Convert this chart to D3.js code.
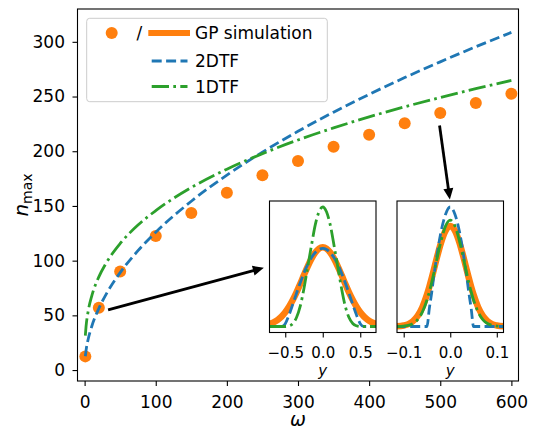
<!DOCTYPE html>
<html>
<head>
<meta charset="utf-8">
<script src="https://cdn.jsdelivr.net/npm/d3@7"></script>
<style>
  body { margin: 0; background: #fff; }
  svg { display: block; font-family: "DejaVu Sans", sans-serif; }
</style>
</head>
<body>
<div id="chart"></div>
<script>
// GP simulation (markers)
const gpOmega = [1, 20, 50, 100, 150, 200, 250, 300, 350, 400, 450, 500, 550, 600];
const gpNmax = [12.5, 57, 90, 122.5, 143.5, 162, 178, 191, 204, 215, 225.5, 235, 244, 252.5];

// Thomas-Fermi curves
const tfOmega = [1, 2, 5, 10, 20, 30, 50, 75, 100, 150, 200, 250, 300, 350, 400, 450, 500, 550, 600];
const tf2D = [12.6, 17.8, 28.2, 39.8, 56.3, 69.0, 89.1, 109.1, 126.0, 154.3, 178.2, 199.2, 218.2, 235.7, 252.0, 267.3, 281.7, 295.5, 308.6];
const tf1D = [31.4, 39.6, 53.7, 67.6, 85.2, 97.5, 115.7, 132.5, 145.7, 166.8, 183.6, 197.8, 210.3, 221.3, 231.4, 240.6, 249.1, 257.2, 264.7];

const xTicks = [0, 100, 200, 300, 400, 500, 600];
const yTicks = [0, 50, 100, 150, 200, 250, 300];

// inset 1 profiles (omega = 20)
const inset1Y = [-0.72, -0.65, -0.6, -0.55, -0.5, -0.45, -0.4, -0.35, -0.3, -0.25, -0.2, -0.15, -0.1, -0.05, 0,
  0.05, 0.1, 0.15, 0.2, 0.25, 0.3, 0.35, 0.4, 0.45, 0.5, 0.55, 0.6, 0.65, 0.72];
const inset1GP = [0.020, 0.037, 0.056, 0.083, 0.119, 0.165, 0.221, 0.286, 0.357, 0.432, 0.504, 0.568, 0.619, 0.652, 0.663,
  0.652, 0.619, 0.568, 0.504, 0.432, 0.357, 0.286, 0.221, 0.165, 0.119, 0.083, 0.056, 0.037, 0.020];
const inset1TF2 = [0, 0, 0, 0, 0.024, 0.096, 0.185, 0.277, 0.366, 0.448, 0.519, 0.577, 0.619, 0.645, 0.654,
  0.645, 0.619, 0.577, 0.519, 0.448, 0.366, 0.277, 0.185, 0.096, 0.024, 0, 0, 0, 0];
const inset1TF1 = [0, 0, 0, 0, 0, 0.006, 0.025, 0.075, 0.17, 0.32, 0.5, 0.68, 0.85, 0.96, 1,
  0.96, 0.85, 0.68, 0.5, 0.32, 0.17, 0.075, 0.025, 0.006, 0, 0, 0, 0, 0];
const inset1Ticks = [-0.5, 0, 0.5];

// inset 2 profiles (omega = 500)
const inset2Y = [-0.117, -0.1, -0.09, -0.08, -0.07, -0.06, -0.05, -0.045, -0.04, -0.035, -0.03, -0.02, -0.01, 0,
  0.01, 0.02, 0.03, 0.035, 0.04, 0.045, 0.05, 0.06, 0.07, 0.08, 0.09, 0.1, 0.117];
const inset2GP = [0.002, 0.009, 0.020, 0.045, 0.089, 0.161, 0.267, 0.331, 0.403, 0.479, 0.556, 0.699, 0.802, 0.84,
  0.802, 0.699, 0.556, 0.479, 0.403, 0.331, 0.267, 0.161, 0.089, 0.045, 0.020, 0.009, 0.002];
const inset2TF2 = [0, 0, 0, 0, 0, 0, 0, 0.15, 0.28, 0.43, 0.56, 0.79, 0.94, 1,
  0.94, 0.79, 0.56, 0.43, 0.28, 0.15, 0, 0, 0, 0, 0, 0, 0];
const inset2TF1 = [0, 0.004, 0.010, 0.025, 0.058, 0.120, 0.222, 0.289, 0.366, 0.451, 0.540, 0.713, 0.842, 0.89,
  0.842, 0.713, 0.540, 0.451, 0.366, 0.289, 0.222, 0.120, 0.058, 0.025, 0.010, 0.004, 0];
const inset2Ticks = [-0.1, 0, 0.1];

const ORANGE = '#ff7f0e', BLUE = '#1f77b4', GREEN = '#2ca02c';
const DASH = '10,4.4';
const DASHDOT = '17.3,4.3,2.7,4.3';

const width = 534, height = 430;
const plot = { left: 77.5, right: 518.5, top: 9, bottom: 381 };

const svg = d3.select('#chart').append('svg')
  .attr('width', width)
  .attr('height', height);

// Scales
const x = d3.scaleLinear().domain([-10, 610]).range([plot.left, plot.right]);
const y = d3.scaleLinear().domain([-10, 330]).range([plot.bottom, plot.top]);

// Axes
const xAxis = svg.append('g')
  .attr('transform', `translate(0,${plot.bottom})`)
  .call(d3.axisBottom(x).tickValues(xTicks).tickSize(5).tickPadding(10).tickFormat(d3.format('d')));
const yAxis = svg.append('g')
  .attr('transform', `translate(${plot.left},0)`)
  .call(d3.axisLeft(y).tickValues(yTicks).tickSize(5).tickPadding(7.5).tickFormat(d3.format('d')));
[xAxis, yAxis].forEach(a => {
  a.select('.domain').remove();
  a.selectAll('line').attr('stroke', '#000').attr('stroke-width', 1.1);
  a.selectAll('text').attr('fill', '#000').style('font-size', '17px').style('font-family', 'DejaVu Sans');
});

const lineMain = (xs, ys) => d3.line()
  .x((d, i) => x(xs[i]))
  .y(d => y(d))
  .curve(d3.curveMonotoneX)(ys);

// GP points, then TF curves
svg.append('g').selectAll('circle')
  .data(gpNmax)
  .join('circle')
  .attr('cx', (d, i) => x(gpOmega[i]))
  .attr('cy', d => y(d))
  .attr('r', 6)
  .attr('fill', ORANGE);

svg.append('path')
  .attr('d', lineMain(tfOmega, tf2D))
  .attr('fill', 'none').attr('stroke', BLUE).attr('stroke-width', 2.8)
  .attr('stroke-dasharray', DASH);

svg.append('path')
  .attr('d', lineMain(tfOmega, tf1D))
  .attr('fill', 'none').attr('stroke', GREEN).attr('stroke-width', 2.8)
  .attr('stroke-dasharray', DASHDOT);

// frame
svg.append('rect')
  .attr('x', plot.left).attr('y', plot.top)
  .attr('width', plot.right - plot.left).attr('height', plot.bottom - plot.top)
  .attr('fill', 'none').attr('stroke', '#000').attr('stroke-width', 1.1);

// axis labels
svg.append('text')
  .attr('x', (plot.left + plot.right) / 2).attr('y', 426)
  .attr('text-anchor', 'middle')
  .style('font-size', '19px').style('font-style', 'italic')
  .text('ω');

const ylab = svg.append('text')
  .attr('transform', `translate(28,${(plot.top + plot.bottom) / 2}) rotate(-90)`)
  .attr('text-anchor', 'middle');
ylab.append('tspan').style('font-size', '20px').style('font-style', 'italic').text('n');
ylab.append('tspan').style('font-size', '14px').attr('dy', 4).text('max');

// arrows (data coordinates)
function arrow(from, to) {
  const x0 = x(from[0]), y0 = y(from[1]), x1 = x(to[0]), y1 = y(to[1]);
  const L = Math.hypot(x1 - x0, y1 - y0);
  const ux = (x1 - x0) / L, uy = (y1 - y0) / L;
  const hl = 11, hw = 5;
  const bx = x1 - ux * hl, by = y1 - uy * hl;
  svg.append('line')
    .attr('x1', x0).attr('y1', y0).attr('x2', bx + ux * 2).attr('y2', by + uy * 2)
    .attr('stroke', '#000').attr('stroke-width', 2.8);
  svg.append('path')
    .attr('d', `M${x1},${y1}L${bx - uy * hw},${by + ux * hw}L${bx + uy * hw},${by - ux * hw}Z`)
    .attr('fill', '#000');
}
arrow([33, 55], [252, 93.5]);
arrow([499, 223.5], [513.5, 156]);

// insets
function inset(id, box, domain, ticks, ys, gp, tf2, tf1) {
  const ix = d3.scaleLinear().domain(domain).range([box.left, box.right]);
  const iy = d3.scaleLinear().domain([-0.05, 1.05]).range([box.bottom, box.top]);
  const g = svg.append('g');
  g.append('rect')
    .attr('x', box.left).attr('y', box.top)
    .attr('width', box.right - box.left).attr('height', box.bottom - box.top)
    .attr('fill', '#fff');
  svg.append('clipPath').attr('id', id)
    .append('rect')
    .attr('x', box.left).attr('y', box.top)
    .attr('width', box.right - box.left).attr('height', box.bottom - box.top);
  const line = vals => d3.line()
    .x((d, i) => ix(ys[i]))
    .y(d => iy(d))
    .curve(d3.curveMonotoneX)(vals);
  const lines = g.append('g').attr('clip-path', `url(#${id})`);
  lines.append('path').attr('d', line(gp))
    .attr('fill', 'none').attr('stroke', ORANGE).attr('stroke-width', 6.5);
  lines.append('path').attr('d', line(tf2))
    .attr('fill', 'none').attr('stroke', BLUE).attr('stroke-width', 2.8)
    .attr('stroke-dasharray', DASH);
  lines.append('path').attr('d', line(tf1))
    .attr('fill', 'none').attr('stroke', GREEN).attr('stroke-width', 2.8)
    .attr('stroke-dasharray', DASHDOT);

  const ax = g.append('g')
    .attr('transform', `translate(0,${box.bottom})`)
    .call(d3.axisBottom(ix).tickValues(ticks).tickSize(5).tickPadding(10).tickFormat(d3.format('.1f')));
  ax.select('.domain').remove();
  ax.selectAll('line').attr('stroke', '#000').attr('stroke-width', 1.1);
  ax.selectAll('text').attr('fill', '#000').style('font-size', '15px').style('font-family', 'DejaVu Sans');

  g.append('rect')
    .attr('x', box.left).attr('y', box.top)
    .attr('width', box.right - box.left).attr('height', box.bottom - box.top)
    .attr('fill', 'none').attr('stroke', '#000').attr('stroke-width', 1.1);

  g.append('text')
    .attr('x', (box.left + box.right) / 2).attr('y', 376)
    .attr('text-anchor', 'middle')
    .style('font-size', '15px').style('font-style', 'italic')
    .text('y');
}
inset('clip1', { left: 269.5, right: 376, top: 201, bottom: 332.5 }, [-0.71, 0.71], inset1Ticks,
  inset1Y, inset1GP, inset1TF2, inset1TF1);
inset('clip2', { left: 397, right: 503.5, top: 201, bottom: 332.5 }, [-0.1144, 0.1144], inset2Ticks,
  inset2Y, inset2GP, inset2TF2, inset2TF1);

// legend
const leg = svg.append('g');
leg.append('rect')
  .attr('x', 86.7).attr('y', 18.3).attr('width', 240.6).attr('height', 83.4)
  .attr('rx', 3)
  .attr('fill', '#fff').attr('fill-opacity', 0.8)
  .attr('stroke', '#cccccc').attr('stroke-width', 1);
leg.append('circle').attr('cx', 111.7).attr('cy', 33).attr('r', 6).attr('fill', ORANGE);
leg.append('text').attr('x', 136.5).attr('y', 39).style('font-size', '17px').text('/');
leg.append('line').attr('x1', 148.3).attr('x2', 190).attr('y1', 33).attr('y2', 33)
  .attr('stroke', ORANGE).attr('stroke-width', 6);
leg.append('line').attr('x1', 151.7).attr('x2', 187.5).attr('y1', 61).attr('y2', 61)
  .attr('stroke', BLUE).attr('stroke-width', 2.8).attr('stroke-dasharray', DASH);
leg.append('line').attr('x1', 151.7).attr('x2', 187.5).attr('y1', 86.5).attr('y2', 86.5)
  .attr('stroke', GREEN).attr('stroke-width', 2.8).attr('stroke-dasharray', DASHDOT);
const legendLabels = ['GP simulation', '2DTF', '1DTF'];
const legendBase = [39, 67, 92.5];
leg.selectAll('text.lab')
  .data(legendLabels)
  .join('text')
  .attr('class', 'lab')
  .attr('x', 195).attr('y', (d, i) => legendBase[i])
  .style('font-size', '17px')
  .text(d => d);
</script>
</body>
</html>
